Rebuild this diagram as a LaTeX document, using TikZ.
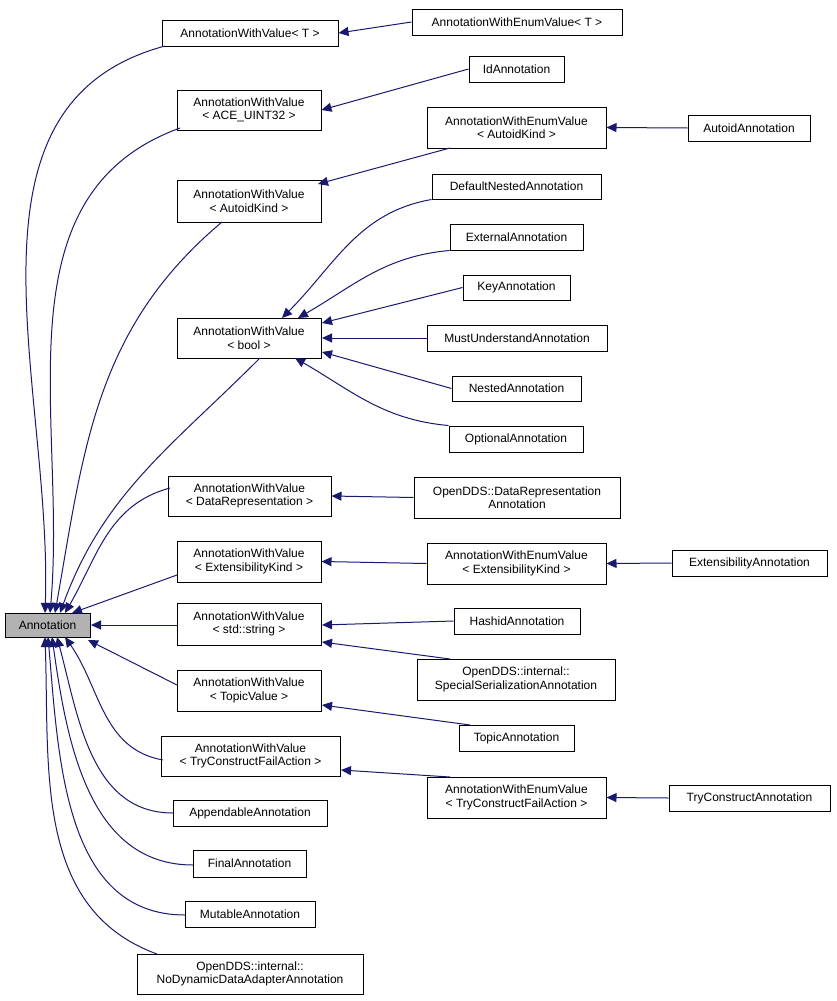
\documentclass[tikz,border=0pt]{standalone}
\usepackage{fontspec}
\setmainfont{Liberation Sans}
\usetikzlibrary{arrows.meta}
\definecolor{navy}{HTML}{191970}
\begin{document}
\begin{tikzpicture}[x=1pt,y=-1pt,
 box/.style={draw=black,line width=1pt,fill=white,inner sep=0pt,align=center,font=\fontsize{12}{13.5}\selectfont},
 edge/.style={draw=navy,line width=1pt,{Triangle[length=10pt,width=9pt,fill=navy]}-}]
\useasboundingbox (0,0) rectangle (836,1001);
\newcommand\nd[6]{\node[box,minimum width={#4-#2},minimum height={#5-#3}] (#1) at ({(#2+#4)/2},{(#3+#5)/2}) {#6};}
\nd{ann}{5}{613}{90}{637}{Annotation}
\node[box,fill=black!30,minimum width=85,minimum height=24] at (ann) {Annotation};
\nd{awvt}{162}{20}{338}{46}{AnnotationWithValue< T >}
\nd{awevt}{412}{9}{622}{35}{AnnotationWithEnumValue< T >}
\nd{id}{469}{56}{564}{82}{IdAnnotation}
\nd{awvace}{177}{90}{321}{130}{AnnotationWithValue\\< ACE\_UINT32 >}
\nd{awevaut}{427}{107}{606}{148}{AnnotationWithEnumValue\\< AutoidKind >}
\nd{autoid}{688}{115}{810}{141}{AutoidAnnotation}
\nd{awvaut}{177}{180}{321}{222}{AnnotationWithValue\\< AutoidKind >}
\nd{dn}{432}{174}{601}{199}{DefaultNestedAnnotation}
\nd{ext}{450}{224}{583}{250}{ExternalAnnotation}
\nd{key}{463}{275}{570}{300}{KeyAnnotation}
\nd{must}{427}{325}{607}{351}{MustUnderstandAnnotation}
\nd{nest}{452}{376}{581}{401}{NestedAnnotation}
\nd{opt}{449}{426}{583}{452}{OptionalAnnotation}
\nd{awvbool}{177}{318}{321}{358}{AnnotationWithValue\\< bool >}
\nd{awvdr}{168}{476}{331}{516}{AnnotationWithValue\\< DataRepresentation >}
\nd{dra}{414}{477}{620}{518}{OpenDDS::DataRepresentation\\Annotation}
\nd{awvek}{177}{541}{321}{582}{AnnotationWithValue\\< ExtensibilityKind >}
\nd{awevek}{427}{543}{606}{584}{AnnotationWithEnumValue\\< ExtensibilityKind >}
\nd{exta}{672}{550}{827}{576}{ExtensibilityAnnotation}
\nd{awvstr}{177}{603}{321}{645}{AnnotationWithValue\\< std::string >}
\nd{hash}{454}{608}{580}{634}{HashidAnnotation}
\nd{spec}{417}{659}{615}{700}{OpenDDS::internal::\\SpecialSerializationAnnotation}
\nd{awvtv}{177}{670}{321}{711}{AnnotationWithValue\\< TopicValue >}
\nd{topic}{459}{725}{574}{751}{TopicAnnotation}
\nd{awvtry}{161}{736}{340}{776}{AnnotationWithValue\\< TryConstructFailAction >}
\nd{awevtry}{427}{777}{606}{818}{AnnotationWithEnumValue\\< TryConstructFailAction >}
\nd{tca}{669}{785}{830}{811}{TryConstructAnnotation}
\nd{app}{173}{800}{327}{826}{AppendableAnnotation}
\nd{fin}{193}{850}{306}{877}{FinalAnnotation}
\nd{mut}{185}{901}{315}{927}{MutableAnnotation}
\nd{nodyn}{137}{954}{363}{994}{OpenDDS::internal::\\NoDynamicDataAdapterAnnotation}
% right-side edges
\draw[edge] (awvt.east) -- (awevt.west);
\draw[edge] (awvace.east) -- (id.west);
\draw[edge] (awevaut.east) -- (autoid.west);
\draw[edge] (318,184) -- (450,148);
\draw[edge] (282,318) to[out=45,in=190] (dn.south west);
\draw[edge] (298,318) to[out=30,in=185] (ext.south west);
\draw[edge] (322,323) -- (key.west);
\draw[edge] (322,338) -- (must.west);
\draw[edge] (322,352) -- (nest.west);
\draw[edge] (295,358) to[out=-30,in=175] (opt.north west);
\draw[edge] (awvdr.east) -- (dra.west);
\draw[edge] (awvek.east) -- (awevek.west);
\draw[edge] (awevek.east) -- (exta.west);
\draw[edge] (322,625) -- (hash.west);
\draw[edge] (322,642) -- (450,659);
\draw[edge] (322,705) -- (470,725);
\draw[edge] (341,770) -- (450,777);
\draw[edge] (awevtry.east) -- (tca.west);
% edges to Annotation
\draw[edge] (45,613) to[out=88,in=195] (165,46);
\draw[edge] (50,613) to[out=85,in=200] (180,128);
\draw[edge] (55,613) to[out=80,in=220] (222,222);
\draw[edge] (60,613) to[out=70,in=225] (260,358);
\draw[edge] (65,613) to[out=60,in=195] (170,488);
\draw[edge] (72,613) -- (177,575);
\draw[edge] (91,625) -- (177,625);
\draw[edge] (88,640) -- (177,685);
\draw[edge] (65,637) to[out=-55,in=170] (163,760);
\draw[edge] (57,637) to[out=-75,in=180] (173,813);
\draw[edge] (52,637) to[out=-82,in=180] (193,865);
\draw[edge] (48,637) to[out=-85,in=180] (185,915);
\draw[edge] (45,637) to[out=-88,in=160] (157,954);
\end{tikzpicture}
\end{document}
